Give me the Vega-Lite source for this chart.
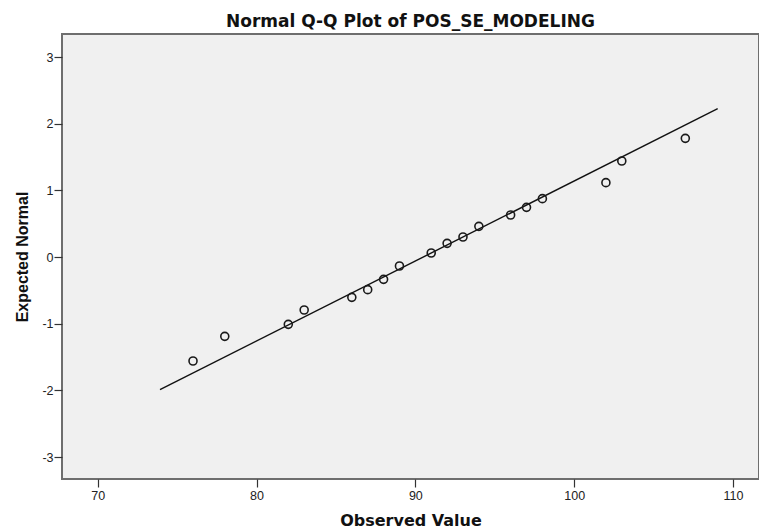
{
  "$schema": "https://vega.github.io/schema/vega-lite/v6.json",
  "width": 697,
  "height": 445,
  "autosize": {"type": "none"},
  "padding": {"left": 62, "top": 34, "right": 0, "bottom": 50},
  "background": "#ffffff",
  "title": {
    "text": "Normal Q-Q Plot of POS_SE_MODELING",
    "font": "DejaVu Sans",
    "fontSize": 17,
    "fontWeight": "bold",
    "color": "#111111",
    "anchor": "middle",
    "offset": 3
  },
  "config": {
    "view": {"fill": "#f0f0f0", "stroke": "#6e6e6e", "strokeWidth": 2},
    "axis": {
      "grid": false,
      "labelFont": "Liberation Sans",
      "labelFontSize": 12.5,
      "labelColor": "#222222",
      "tickColor": "#333333",
      "tickSize": 8,
      "tickWidth": 1.2,
      "domain": false,
      "titleColor": "#111111",
      "titleFontWeight": "bold"
    }
  },
  "datasets": {
    "points": [
      {"observed": 76, "expected": -1.56},
      {"observed": 78, "expected": -1.19},
      {"observed": 82, "expected": -1.01},
      {"observed": 83, "expected": -0.795},
      {"observed": 86, "expected": -0.605},
      {"observed": 87, "expected": -0.49},
      {"observed": 88, "expected": -0.335},
      {"observed": 89, "expected": -0.135},
      {"observed": 91, "expected": 0.06},
      {"observed": 92, "expected": 0.205},
      {"observed": 93, "expected": 0.3},
      {"observed": 94, "expected": 0.46},
      {"observed": 96, "expected": 0.63},
      {"observed": 97, "expected": 0.745},
      {"observed": 98, "expected": 0.875},
      {"observed": 102, "expected": 1.115},
      {"observed": 103, "expected": 1.44},
      {"observed": 107, "expected": 1.78}
    ],
    "refline": [
      {"observed": 73.92, "expected": -1.989},
      {"observed": 109.04, "expected": 2.224}
    ]
  },
  "layer": [
    {
      "data": {"name": "refline"},
      "mark": {"type": "line", "color": "#111111", "strokeWidth": 1.4},
      "encoding": {
        "x": {"field": "observed", "type": "quantitative"},
        "y": {"field": "expected", "type": "quantitative"}
      }
    },
    {
      "data": {"name": "points"},
      "mark": {"type": "point", "shape": "circle", "filled": false, "stroke": "#1a1a1a", "strokeWidth": 1.6, "size": 64, "opacity": 1},
      "encoding": {
        "x": {
          "field": "observed",
          "type": "quantitative",
          "scale": {"domain": [67.75, 111.64], "nice": false, "zero": false},
          "axis": {
            "values": [70, 80, 90, 100, 110],
            "labelExpr": "'' + datum.value",
            "title": "Observed Value",
            "titleFont": "DejaVu Sans",
            "titleFontSize": 16,
            "titlePadding": 11,
            "labelPadding": 2
          }
        },
        "y": {
          "field": "expected",
          "type": "quantitative",
          "scale": {"domain": [-3.33, 3.345], "nice": false, "zero": false},
          "axis": {
            "values": [-3, -2, -1, 0, 1, 2, 3],
            "labelExpr": "'' + datum.value",
            "title": "Expected Normal",
            "titleFont": "Liberation Sans",
            "titleFontSize": 16,
            "titlePadding": 11,
            "labelPadding": 1
          }
        }
      }
    }
  ]
}
